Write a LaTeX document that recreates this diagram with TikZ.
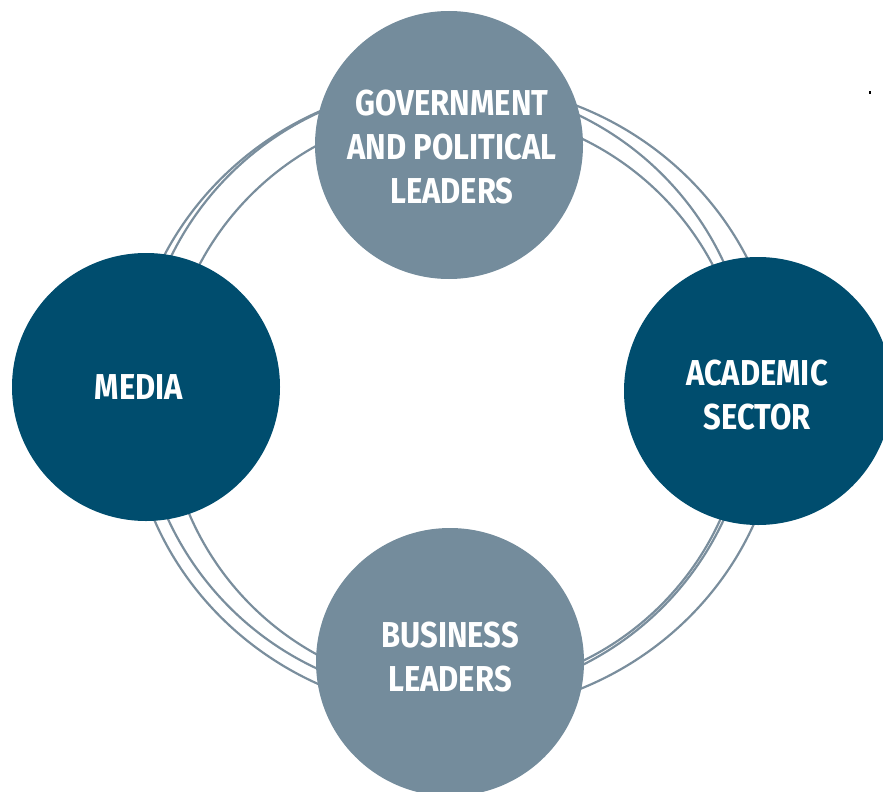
\documentclass[tikz,border=0pt]{standalone}
\usepackage{fontspec}
\setmainfont[FakeStretch=0.86]{Fira Sans}
\definecolor{grayc}{HTML}{748C9C}
\definecolor{bluec}{HTML}{004D6E}
\definecolor{ringc}{HTML}{7A8E9D}
\begin{document}
\begin{tikzpicture}[x=1pt,y=-1pt,
  ring/.style={draw=ringc, line width=2.2pt},
  hub/.style={circle, minimum size=268pt, inner sep=0pt},
  lbl/.style={inner sep=0pt, text=white,
    font=\bfseries\fontsize{36}{44}\selectfont, align=center}]
\useasboundingbox (0,0) rectangle (883,792);
\clip (0,0) rectangle (883,792);
\draw[ring] (455,398) ellipse [x radius=326, y radius=315];
\draw[ring] (446,391) circle [radius=306];
\draw[ring] (456,400) circle [radius=290];
\node[hub, fill=grayc] (gov) at (449,145) {};
\node[hub, fill=bluec] (media) at (146,387) {};
\node[hub, fill=bluec] (acad) at (758,391) {};
\node[hub, fill=grayc] (bus) at (450,662) {};
\node[lbl] (govt) at (452,147) {GOVERNMENT\\AND POLITICAL\\LEADERS};
\node[lbl] (mediat) at (139,387) {MEDIA};
\node[lbl] (acadt) at (757,395) {ACADEMIC\\SECTOR};
\node[lbl] (bust) at (450,657) {BUSINESS\\LEADERS};
\fill[black] (869,91) rectangle (871,94);
\end{tikzpicture}
\end{document}
